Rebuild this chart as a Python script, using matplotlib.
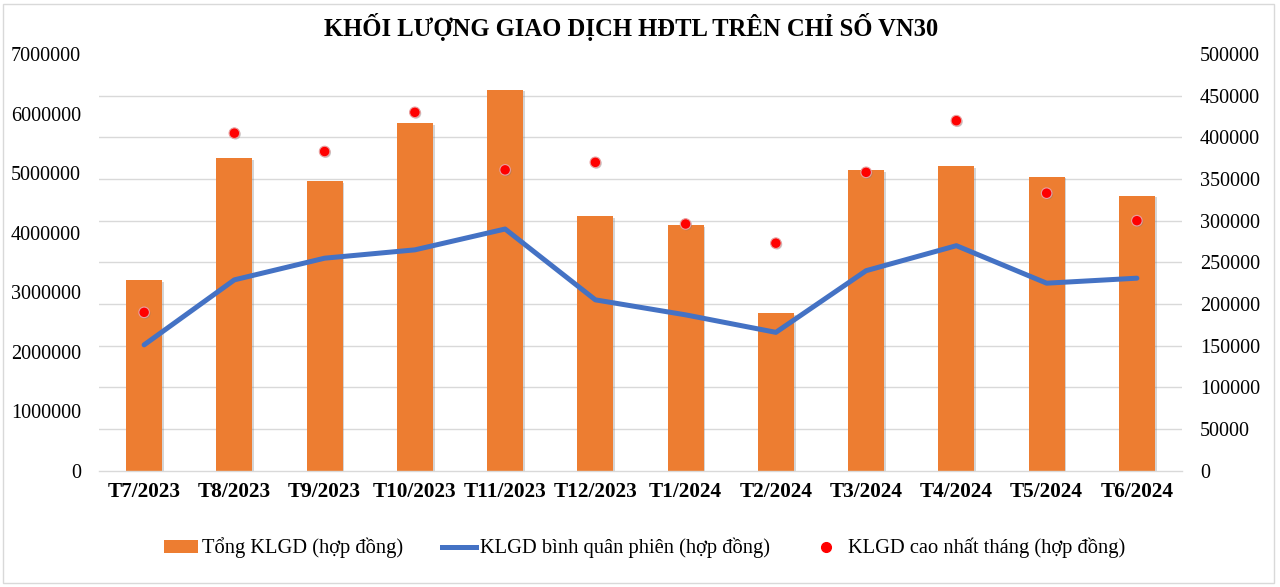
import matplotlib
matplotlib.use("Agg")
import matplotlib.pyplot as plt
import matplotlib.patheffects as pe
from matplotlib.ticker import MultipleLocator
from matplotlib.patches import Rectangle
from matplotlib.lines import Line2D
import numpy as np

plt.rcParams['font.family'] = ['Liberation Serif', 'DejaVu Serif']

months = ["T7/2023", "T8/2023", "T9/2023", "T10/2023", "T11/2023", "T12/2023",
          "T1/2024", "T2/2024", "T3/2024", "T4/2024", "T5/2024", "T6/2024"]
tong_klgd = [3200000, 5250000, 4860000, 5840000, 6400000, 4280000,
             4130000, 2650000, 5050000, 5120000, 4940000, 4620000]
binh_quan = [151000, 229000, 255000, 265000, 290000, 205000,
             187000, 166000, 240000, 270000, 225000, 231000]
cao_nhat = [190000, 405000, 383000, 430000, 361000, 370000,
            296000, 273000, 358000, 420000, 333000, 300000]

title = "KHỐI LƯỢNG GIAO DỊCH HĐTL TRÊN CHỈ SỐ VN30"
lbl_bar = "Tổng KLGD (hợp đồng)"
lbl_line = "KLGD bình quân phiên (hợp đồng)"
lbl_dot = "KLGD cao nhất tháng (hợp đồng)"

ORANGE = "#ED7D31"
BLUE = "#4472C4"
RED = "#FF0000"
GRID = "#D9D9D9"

fig = plt.figure(figsize=(12.8, 5.87), dpi=100)
fig.patch.set_facecolor("white")
ax = fig.add_axes([99/1280, 1 - 470.7/587, (1182-99)/1280, (470.7-54)/587])
ax2 = ax.twinx()

x = np.arange(len(months))
bars = ax.bar(x, tong_klgd, width=0.4, color=ORANGE, zorder=2)
for b in bars:
    b.set_path_effects([pe.SimplePatchShadow(offset=(1.2, -1.2), shadow_rgbFace="#888888", alpha=0.35),
                        pe.Normal()])

ax.set_ylim(0, 7000000)
ax.set_xlim(-0.5, len(months) - 0.5)
ax.yaxis.set_major_locator(MultipleLocator(1000000))
ax.yaxis.set_minor_locator(MultipleLocator(700000))
ax.grid(which="minor", axis="y", color=GRID, linewidth=1.0, zorder=0)
ax.set_axisbelow(True)
ax.tick_params(axis="y", which="both", length=0, pad=13, labelsize=14.5)
ax.tick_params(axis="x", length=0, pad=8)
ax.set_xticks(x)
ax.set_xticklabels(months, fontsize=15.3, fontweight="bold")
ax.yaxis.set_major_formatter(matplotlib.ticker.FuncFormatter(lambda v, p: f"{int(v)}"))

ax2.plot(x, binh_quan, color=BLUE, linewidth=3.6, solid_capstyle="round", solid_joinstyle="round", zorder=3)
ax2.scatter(x, cao_nhat, s=58, color=RED, edgecolors="#E8A0A0", linewidths=0.8, zorder=4,
            path_effects=[pe.SimplePatchShadow(offset=(0.8, -0.8), shadow_rgbFace="#777777", alpha=0.4), pe.Normal()])
ax2.set_ylim(0, 500000)
ax2.yaxis.set_major_locator(MultipleLocator(50000))
ax2.tick_params(axis="y", length=0, pad=13, labelsize=14.5)
ax2.yaxis.set_major_formatter(matplotlib.ticker.FuncFormatter(lambda v, p: f"{int(v)}"))

for a in (ax, ax2):
    for s in a.spines.values():
        s.set_visible(False)
ax.spines["bottom"].set_visible(True)
ax.spines["bottom"].set_color(GRID)
ax.spines["bottom"].set_linewidth(1.0)

fig.text(631/1280, 1 - 27/587, title, ha="center", va="center", fontsize=17.7, fontweight="bold")

handles = [
    Rectangle((0, 0), 1, 1, facecolor=ORANGE, edgecolor="none"),
    Line2D([0], [0], color=BLUE, linewidth=3.6),
    Line2D([0], [0], color=RED, marker="o", linestyle="none", markersize=7),
]
fig.legend(handles, [lbl_bar, lbl_line, lbl_dot], loc="center", bbox_to_anchor=(644.5/1280, 1 - 548/587),
           ncol=3, frameon=False, fontsize=14.8, handlelength=1.65, handletextpad=0.2,
           columnspacing=1.9, handleheight=0.6)

fig.add_artist(Rectangle((3/1280, 4/587), (1274-3)/1280, (583-4)/587, transform=fig.transFigure,
                         fill=False, edgecolor=GRID, linewidth=1.0))

fig.savefig("out.png", dpi=100)
